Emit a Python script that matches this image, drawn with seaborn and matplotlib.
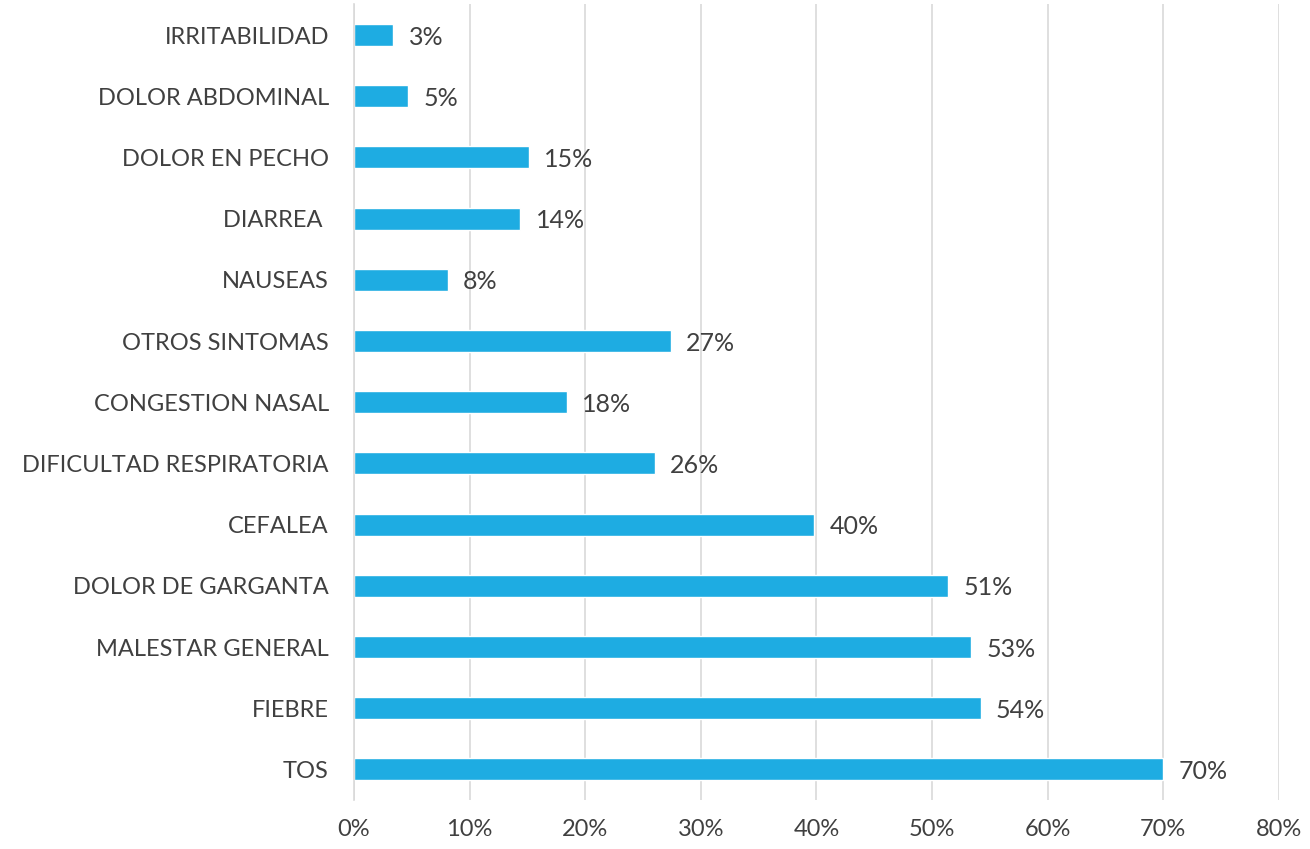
import matplotlib
matplotlib.use("Agg")
import matplotlib.pyplot as plt
import pandas as pd
import seaborn as sns
from matplotlib.ticker import FuncFormatter

# Síntomas (de arriba hacia abajo) y porcentaje de casos
sintomas = [
    "IRRITABILIDAD", "DOLOR ABDOMINAL", "DOLOR EN PECHO", "DIARREA ",
    "NAUSEAS", "OTROS SINTOMAS", "CONGESTION NASAL", "DIFICULTAD RESPIRATORIA",
    "CEFALEA", "DOLOR DE GARGANTA", "MALESTAR GENERAL", "FIEBRE", "TOS",
]
porcentajes = [3.4, 4.7, 15.1, 14.4, 8.1, 27.4, 18.4, 26.0, 39.8, 51.4, 53.4, 54.2, 70.0]
x_ticks = [0, 10, 20, 30, 40, 50, 60, 70, 80]

BAR_COLOR = "#1EACE2"
TEXT_COLOR = "#404040"

df = pd.DataFrame({"sintoma": sintomas, "pct": porcentajes})

sns.set_theme(style="white")
plt.rcParams["font.family"] = ["Lato", "DejaVu Sans"]

fig = plt.figure(figsize=(13.1, 8.49), dpi=100)
ax = fig.add_axes([0.2702, 0.0577, 0.7061, 0.9371])

sns.barplot(data=df, x="pct", y="sintoma", orient="h", color=BAR_COLOR,
            saturation=1, width=0.36, ax=ax)

ax.set_xlim(0, 80)
ax.set_xticks(x_ticks)
ax.xaxis.set_major_formatter(FuncFormatter(lambda v, _: f"{v:.0f}%"))
ax.set_ylim(len(sintomas) - 0.5, -0.5)

ax.grid(axis="x", color="#D9D9D9", linewidth=1.2)
ax.set_axisbelow(True)
for side in ("top", "right", "bottom"):
    ax.spines[side].set_visible(False)
ax.spines["left"].set_color("#D9D9D9")
ax.spines["left"].set_linewidth(1.2)

ax.tick_params(axis="both", length=0, labelsize=17, colors=TEXT_COLOR)
ax.tick_params(axis="y", pad=18)
ax.tick_params(axis="x", pad=14)
ax.set_xlabel("")
ax.set_ylabel("")

labels = ax.bar_label(ax.containers[0], labels=[f"{v:.0f}%" for v in porcentajes],
                      padding=11, fontsize=18, color=TEXT_COLOR)
# Excel sits the value labels a touch below the bar centre
for t in labels:
    t.set_va("center_baseline")

fig.savefig("out.png", dpi=100)
